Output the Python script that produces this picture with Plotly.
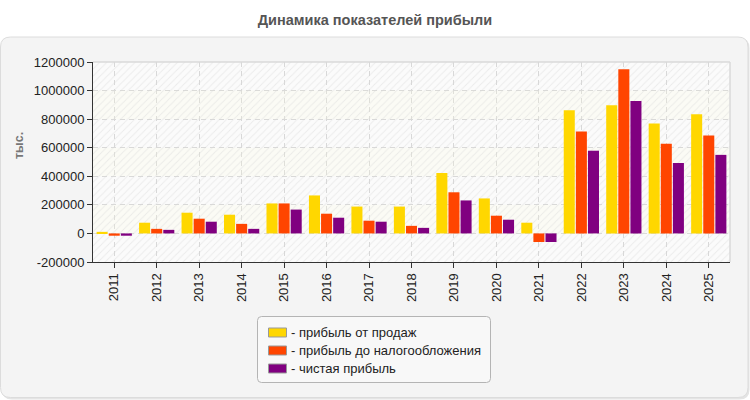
import plotly.graph_objects as go

years = list(range(2011, 2026))
series_names = ["прибыль от продаж", "прибыль до налогообложения", "чистая прибыль"]
sales_profit = [11000, 75000, 145000, 131000, 210000, 266000, 188000, 188000, 423000, 245000, 75000, 863000, 898000, 770000, 834000]
pretax_profit = [-16000, 32000, 103000, 67000, 210000, 138000, 89000, 53000, 288000, 124000, -60000, 713000, 1150000, 628000, 685000]
net_profit = [-16000, 25000, 82000, 32000, 167000, 110000, 82000, 39000, 231000, 96000, -60000, 579000, 927000, 493000, 550000]
colors = ["#FFD700", "#FF4500", "#800080"]
y_ticks = [-200000, 0, 200000, 400000, 600000, 800000, 1000000, 1200000]
y_ticktext = ["-200000", "0", "200000", "400000", "600000", "800000", "1000000", "1200000"]

FONT = "Liberation Sans, Arial, sans-serif"
W_PX, H_PX = 750, 400
L, R, T, B = 93, 20, 62, 138
PW = W_PX - L - R
PH = H_PX - T - B


def px_x(px):
    return (px - L) / PW


def px_y(py):
    return (H_PX - B - py) / PH


def rounded_rect(x0, y0, x1, y1, r):
    rx, ry = r / PW, r / PH
    X0, X1 = px_x(x0), px_x(x1)
    Y0, Y1 = px_y(y0), px_y(y1)
    return (f"M{X0 + rx},{Y0} L{X1 - rx},{Y0} Q{X1},{Y0} {X1},{Y0 - ry} "
            f"L{X1},{Y1 + ry} Q{X1},{Y1} {X1 - rx},{Y1} L{X0 + rx},{Y1} "
            f"Q{X0},{Y1} {X0},{Y1 + ry} L{X0},{Y0 - ry} Q{X0},{Y0} {X0 + rx},{Y0} Z")


fig = go.Figure()

# background bands: cream tint on alternate bands, faint diagonal hatch over the whole area
xmid = (years[0] + years[-1]) / 2
span = len(years)
cream_bases = y_ticks[1:-1:2]
step = y_ticks[1] - y_ticks[0]
fig.add_trace(go.Bar(
    x=[xmid] * len(cream_bases), y=[step] * len(cream_bases), base=cream_bases,
    width=[span] * len(cream_bases), offset=-span / 2,
    marker=dict(color="rgba(252,252,225,0.22)", line=dict(width=0)),
    hoverinfo="skip", showlegend=False))
fig.add_trace(go.Bar(
    x=[xmid], y=[y_ticks[-1] - y_ticks[0]], base=[y_ticks[0]],
    width=[span], offset=-span / 2,
    marker=dict(color="rgba(0,0,0,0)", line=dict(width=0),
                pattern=dict(shape="/", fillmode="replace", fgcolor="rgba(215,215,215,0.45)",
                             bgcolor="rgba(0,0,0,0)", size=5, solidity=0.18)),
    hoverinfo="skip", showlegend=False))

bw = 0.26
offsets = [-0.415, -0.13, 0.155]
for name, vals, col, off in zip(series_names, [sales_profit, pretax_profit, net_profit], colors, offsets):
    fig.add_trace(go.Bar(x=years, y=vals, name=name, marker=dict(color=col, line=dict(width=0)),
                         width=bw, offset=off, showlegend=False))

shapes = []
shapes.append(dict(type="path", xref="paper", yref="paper", layer="below",
                   path=rounded_rect(2, 38, 749.5, 399.5, 10), fillcolor="#e4e4e4", line=dict(width=0)))
shapes.append(dict(type="path", xref="paper", yref="paper", layer="below",
                   path=rounded_rect(0.5, 37, 748, 397.5, 10), fillcolor="#f4f4f4",
                   line=dict(color="#dcdcdc", width=1)))
shapes.append(dict(type="rect", xref="paper", yref="paper", layer="below",
                   x0=0, x1=1, y0=0, y1=1, fillcolor="#fbfbfb", line=dict(width=0)))
shapes.append(dict(type="line", xref="paper", yref="paper", x0=0, x1=1, y0=1, y1=1,
                   line=dict(color="#dadada", width=1.5)))
shapes.append(dict(type="line", xref="paper", yref="paper", x0=1, x1=1, y0=0, y1=1,
                   line=dict(color="#dadada", width=1.5)))
shapes.append(dict(type="path", xref="paper", yref="paper",
                   path=rounded_rect(257.5, 316.5, 490.5, 382.5, 4), fillcolor="#f8f8f8",
                   line=dict(color="#b4b4b4", width=1)))
annotations = []
row_y = [332.5, 350.5, 368.5]
for name, col, ry in zip(series_names, colors, row_y):
    shapes.append(dict(type="rect", xref="paper", yref="paper",
                       x0=px_x(268.5), x1=px_x(286.5), y0=px_y(ry - 4.5), y1=px_y(ry + 4.5),
                       fillcolor=col, line=dict(color="#999999", width=1)))
    annotations.append(dict(xref="paper", yref="paper", x=px_x(289), y=px_y(ry), xanchor="left",
                            yanchor="middle", showarrow=False, text="- " + name,
                            font=dict(family=FONT, size=13, color="#222222")))

annotations.append(dict(xref="paper", yref="paper", x=px_x(19), y=px_y(146), xanchor="center",
                        yanchor="middle", showarrow=False, text="<b>тыс.</b>", textangle=-90,
                        font=dict(family=FONT, size=12.5, color="#777777")))

fig.update_layout(
    width=W_PX, height=H_PX,
    margin=dict(l=L, r=R, t=T, b=B, pad=0),
    paper_bgcolor="white", plot_bgcolor="rgba(0,0,0,0)",
    barmode="overlay",
    title=dict(text="<b>Динамика показателей прибыли</b>", x=0.5, xref="container", xanchor="center",
               y=1 - 20 / H_PX, yref="container", yanchor="middle",
               font=dict(family=FONT, size=14.5, color="#555555")),
    shapes=shapes, annotations=annotations,
    showlegend=False,
)
fig.update_xaxes(range=[years[0] - 0.5, years[-1] + 0.5], tickvals=years, ticktext=[str(y) for y in years],
                 tickangle=-90, showline=True, linecolor="#333333", linewidth=1,
                 ticks="outside", ticklen=5, tickcolor="#333333",
                 showgrid=True, gridcolor="#d8d8d8", griddash="5px,4px", gridwidth=1,
                 zeroline=False, tickfont=dict(family=FONT, size=13, color="#222222"))
fig.update_yaxes(range=[y_ticks[0], y_ticks[-1]], tickvals=y_ticks, ticktext=y_ticktext,
                 showline=True, linecolor="#333333", linewidth=1,
                 ticks="outside", ticklen=5, tickcolor="#333333",
                 showgrid=True, gridcolor="#d8d8d8", griddash="5px,4px", gridwidth=1,
                 zeroline=False, tickfont=dict(family=FONT, size=13, color="#222222"))

fig.write_html("out.html")
